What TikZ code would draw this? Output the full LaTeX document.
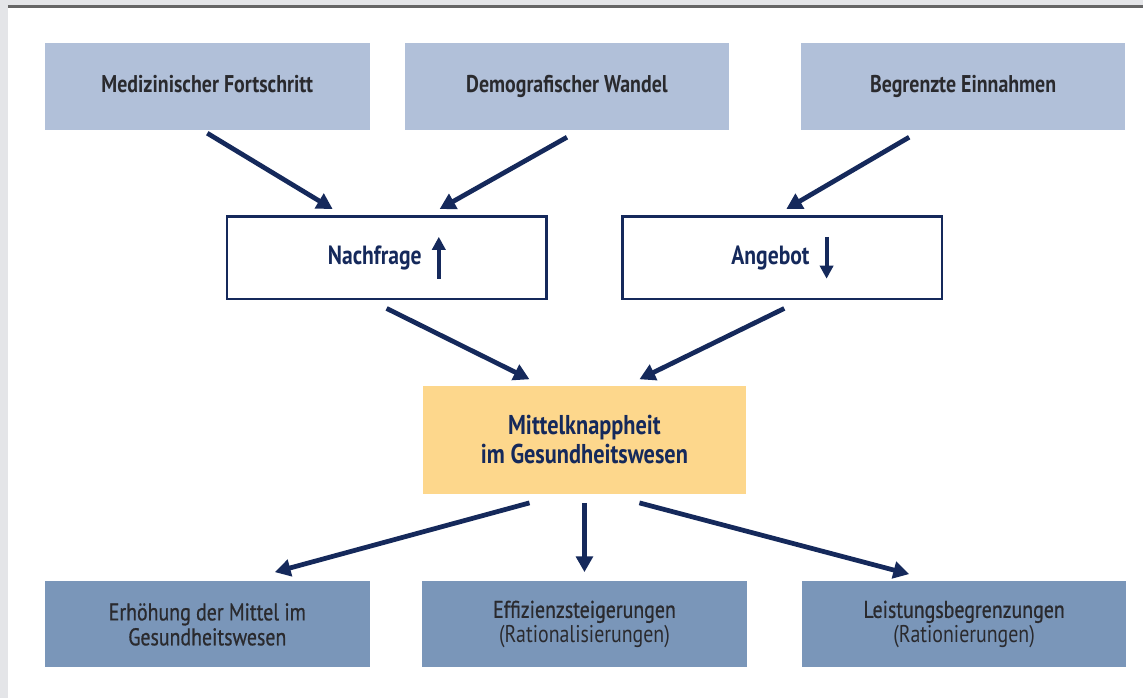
\documentclass[tikz,border=0pt]{standalone}
\usepackage{fontspec}
\setmainfont{PT Sans}[FakeStretch=0.82]
\newfontfamily\kmmedium{PT Sans}[FakeStretch=0.82, FakeBold=0.7]
\definecolor{kmTop}{HTML}{B1C0D9}
\definecolor{kmBottom}{HTML}{7A96B9}
\definecolor{kmCore}{HTML}{FDD78C}
\definecolor{kmNavy}{HTML}{15295B}
\definecolor{kmText}{HTML}{2A2A2E}
\definecolor{kmFrame}{HTML}{E4E5E8}
\usetikzlibrary{calc,positioning,arrows.meta}
\newcommand{\trendup}{\tikz[baseline=-0.5ex]\draw[kmNavy, line width=2.2pt, -{Triangle[length=7.5pt,width=7.5pt]}] (0,-0.42) -- (0,0.42);}
\newcommand{\trenddown}{\tikz[baseline=-0.5ex]\draw[kmNavy, line width=2.2pt, -{Triangle[length=7.5pt,width=7.5pt]}] (0,0.42) -- (0,-0.42);}

\begin{document}
\begin{tikzpicture}[
  cause/.style={fill=kmTop, text=kmText, minimum width=6.5cm, minimum height=1.74cm,
    align=center, font=\fontsize{13.8}{16}\selectfont\bfseries, inner sep=0pt},
  effect/.style={draw=kmNavy, line width=1.4pt, fill=white, text=kmNavy, minimum width=6.4cm,
    minimum height=1.66cm, align=center, font=\fontsize{15}{17}\selectfont\bfseries, inner sep=0pt},
  core/.style={fill=kmCore, text=kmNavy, minimum width=6.48cm, minimum height=2.16cm,
    align=center, font=\fontsize{15.5}{16.5}\selectfont\bfseries, inner sep=0pt},
  measure/.style={fill=kmBottom, text=kmText, minimum width=6.5cm, minimum height=1.72cm,
    align=center, font=\fontsize{13.8}{14.2}\selectfont, inner sep=0pt},
  arr/.style={-{Triangle[length=9pt,width=9.5pt]}, line width=2.7pt, color=kmNavy}
]
  % frame
  \fill[white] (-11.44,-6.99) rectangle (11.44,6.99);
  \fill[kmFrame] (-11.44,-6.99) rectangle (-11.28,6.99);
  \fill[kmFrame] (-11.44,6.87) rectangle (11.44,6.99);
  \draw[gray!80!black, line width=1.2pt] (-11.28,6.86) -- (11.44,6.86);
  \useasboundingbox (-11.44,-6.99) rectangle (11.44,6.99);

  \node[cause] (medfort) at (-7.29,5.26) {Medizinischer Fortschritt\strut};
  \node[cause] (demo) at (-0.09,5.26) {Demografischer Wandel\strut};
  \node[cause] (einnahmen) at (7.84,5.26) {Begrenzte Einnahmen\strut};

  \node[effect] (nachfrage) at (-3.70,1.83) {Nachfrage\hspace{0.4em}\trendup};
  \node[effect] (angebot) at (4.22,1.83) {Angebot\hspace{0.4em}\trenddown};

  \node[core] (knapp) at (0.26,-1.81) {Mittelknappheit\\im Gesundheitswesen};

  % Massnahmen
  \node[measure] (mittel) at (-7.29,-5.51) {\kmmedium Erhöhung der Mittel im\\\kmmedium Gesundheitswesen};
  \node[measure] (effizienz) at (0.26,-5.51) {\kmmedium Effizienzsteigerungen\\(Rationalisierungen)};
  \node[measure] (leistung) at (7.86,-5.51) {\kmmedium Leistungsbegrenzungen\\(Rationierungen)};

  \draw[arr] ($(medfort.south)+(0,-0.06)$) -- ($(nachfrage.north)+(-1.08,0.12)$);
  \draw[arr] ($(demo.south)+(0,-0.14)$) -- ($(nachfrage.north)+(1.06,0.12)$);
  \draw[arr] ($(einnahmen.south)+(-1.08,-0.14)$) -- ($(angebot.north)+(0.08,0.12)$);

  \draw[arr] ($(nachfrage.south)+(0,-0.16)$) -- ($(knapp.north)+(-1.1,0.12)$);
  \draw[arr] ($(angebot.south)+(0.04,-0.16)$) -- ($(knapp.north)+(1.1,0.12)$);

  \draw[arr] ($(knapp.south)+(-1.1,-0.18)$) -- ($(mittel.north)+(1.35,0.18)$);
  \draw[arr] ($(knapp.south)+(0,-0.18)$) -- ($(effizienz.north)+(0,0.18)$);
  \draw[arr] ($(knapp.south)+(1.1,-0.18)$) -- ($(leistung.north)+(-1.1,0.14)$);
\end{tikzpicture}
\end{document}
